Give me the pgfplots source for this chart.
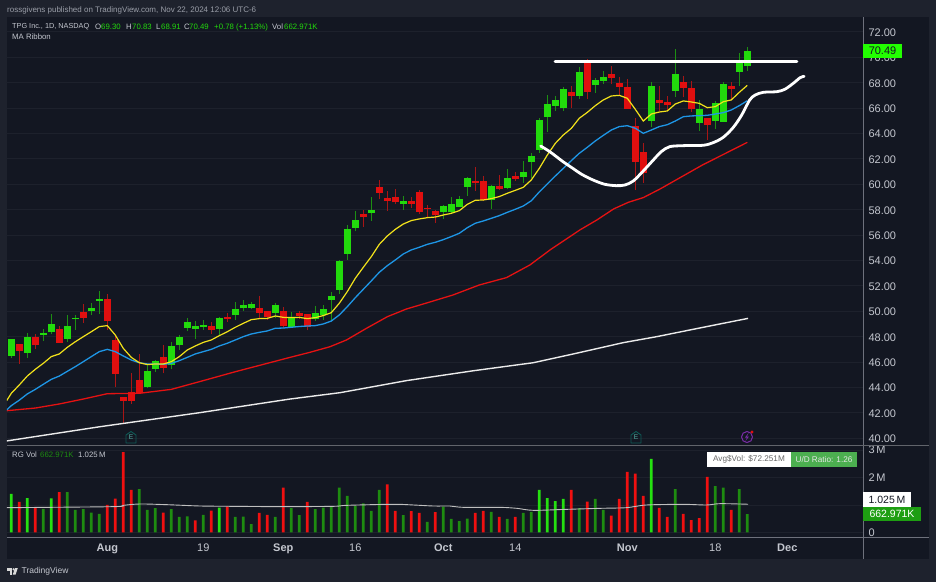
\documentclass[border=0pt]{standalone}
\usepackage{pgfplots}
\usepackage{pgfplotstable}
\usepackage{fontspec}
\setmainfont{Liberation Sans}
\pgfplotsset{compat=1.18}
\definecolor{outer}{HTML}{1E222D}
\definecolor{panel}{HTML}{131722}
\definecolor{gridc}{HTML}{1D212C}
\definecolor{axisc}{HTML}{6E717C}
\definecolor{txt}{HTML}{C4C7CF}
\definecolor{txtdim}{HTML}{9A9EA8}
\definecolor{gbody}{HTML}{22DA0C}
\definecolor{rbody}{HTML}{E00F0F}
\definecolor{gwick}{HTML}{1C8F12}
\definecolor{rwick}{HTML}{A81515}
\definecolor{vgd}{HTML}{1E8C10}
\definecolor{vgb}{HTML}{25E010}
\definecolor{vr}{HTML}{F01010}
\definecolor{maY}{HTML}{F2E21B}
\definecolor{maB}{HTML}{1E96E6}
\definecolor{maR}{HTML}{E51212}
\definecolor{tealE}{HTML}{0E5A55}
\definecolor{purp}{HTML}{7B2CA8}
\definecolor{tag}{HTML}{22FF00}
\definecolor{volg}{HTML}{1E9E12}
\definecolor{udg}{HTML}{4CAF50}
\pgfplotstableread{
i bot top low high
0 46.48 47.79 46.30 47.82
2 46.74 47.95 46.35 48.26
4 48.16 48.29 47.69 48.58
5 48.34 49.00 48.18 49.76
7 47.82 48.84 47.60 49.70
8 49.42 49.50 48.53 49.70
10 50.05 50.28 49.70 50.63
11 50.84 50.99 49.80 51.62
17 44.01 45.30 43.93 45.77
18 45.48 46.06 45.20 46.20
20 45.74 47.27 45.43 47.55
21 47.37 48.00 46.95 48.13
22 48.71 49.16 48.42 49.47
23 48.60 48.84 47.82 49.23
24 48.76 48.92 48.53 49.30
26 48.60 49.47 48.13 49.58
28 49.70 50.20 49.30 50.70
29 50.23 50.52 50.05 50.89
30 50.28 50.57 50.15 50.70
33 49.86 50.49 49.44 50.63
35 48.79 49.52 48.74 49.92
38 49.39 49.87 49.26 50.42
39 49.68 50.18 49.31 50.50
40 50.89 51.20 49.26 51.55
41 51.68 53.96 51.36 54.04
42 54.51 56.45 54.07 56.82
43 56.56 57.19 56.30 57.92
45 57.74 57.98 57.14 59.03
49 58.47 58.68 57.98 59.08
54 57.82 58.29 57.27 58.37
55 57.79 58.45 57.71 59.00
56 58.24 58.87 58.19 59.08
57 59.81 60.47 59.08 60.55
60 58.76 59.87 58.03 59.92
62 59.68 60.50 59.60 61.20
64 60.57 60.94 60.08 61.83
65 61.75 62.25 60.47 62.44
66 62.70 65.06 62.49 65.22
67 65.32 66.32 64.14 67.03
68 66.19 66.64 65.80 66.98
69 65.98 67.48 65.80 67.63
71 66.98 68.87 66.71 69.26
73 67.84 68.24 67.21 68.34
74 68.16 68.42 67.90 68.95
80 64.98 67.76 64.48 68.08
83 67.37 68.68 66.90 70.65
86 64.85 65.90 64.22 66.64
88 64.98 66.37 64.35 66.56
89 64.93 67.87 64.93 68.08
91 68.84 69.63 67.74 70.36
92 69.30 70.49 68.91 70.83
}\greentab
\pgfplotstableread{
i bot top low high
1 46.90 47.42 45.85 47.45
3 47.34 47.95 47.00 48.20
6 47.53 48.58 47.53 48.84
9 49.47 49.92 49.10 50.55
12 49.26 50.97 48.53 51.36
13 45.09 47.74 44.04 48.13
14 42.96 43.22 41.18 43.22
15 42.96 43.64 42.70 45.11
16 43.57 44.56 43.54 46.64
19 45.56 46.37 45.11 47.32
25 48.55 48.81 48.21 49.18
27 49.42 49.52 49.18 49.90
31 49.86 50.23 49.44 51.20
32 49.55 49.99 49.30 50.05
34 48.84 49.99 48.66 50.31
36 49.66 49.89 49.40 50.00
37 48.76 49.79 48.50 49.80
44 57.45 57.66 56.64 57.98
46 59.34 59.81 58.82 60.34
47 58.71 58.92 57.90 59.50
48 58.58 58.97 58.42 59.60
50 58.47 58.66 58.10 59.03
51 57.84 59.37 57.63 59.55
52 58.03 58.10 57.37 58.37
53 57.56 57.87 56.98 57.98
58 60.10 60.23 59.50 61.39
59 58.76 60.23 58.71 60.65
61 59.66 59.84 59.55 60.73
63 60.42 60.63 60.29 60.99
70 66.98 67.24 65.98 67.74
72 67.29 69.63 66.69 69.84
75 68.37 68.68 67.87 69.31
76 67.69 68.00 67.03 68.47
77 65.95 67.69 65.93 68.26
78 61.78 64.59 59.55 65.19
79 60.89 62.57 60.13 63.22
81 66.43 66.64 65.80 67.74
82 66.22 66.45 65.80 66.98
84 67.60 68.03 66.85 68.55
85 65.90 67.55 65.72 68.13
87 64.64 65.22 63.49 65.22
90 67.53 67.74 66.64 68.03
}\redtab
\pgfplotstableread{
i v
0 1.40
2 1.25
5 1.24
26 0.90
66 1.55
67 1.25
68 1.14
69 1.22
80 2.68
}\volbright
\pgfplotstableread{
i v
4 0.86
7 1.47
8 0.82
9 0.85
10 0.72
11 0.67
16 1.58
17 0.82
18 0.88
20 0.85
21 0.56
22 0.58
24 0.64
28 0.56
29 0.57
30 0.30
33 0.56
35 0.88
36 0.63
38 0.85
39 0.90
40 0.94
41 1.63
42 1.33
43 0.97
44 1.06
45 0.78
46 1.55
49 0.63
52 0.38
54 0.94
55 0.49
56 0.41
57 0.50
60 0.75
62 0.49
64 0.71
65 0.75
71 0.88
73 1.22
74 0.82
83 1.58
88 1.69
89 1.63
91 1.58
92 0.663
}\voldark
\pgfplotstableread{
i v
1 1.11
3 0.88
6 1.47
12 1.00
13 1.23
14 2.93
15 1.55
19 0.72
23 0.44
25 0.79
27 0.95
31 0.71
32 0.64
34 1.63
37 1.11
47 1.75
48 0.78
50 0.77
51 0.71
53 0.74
58 0.71
59 0.78
61 0.56
63 0.56
70 1.55
72 1.12
75 0.61
76 1.22
77 2.21
78 2.14
79 1.33
81 0.89
82 0.56
84 0.67
85 0.45
86 0.52
87 2.02
90 0.82
}\volred
\pgfplotsset{candle/.style n args={2}{draw=none,mark=none,forget plot,error bars/.cd,y dir=plus,y explicit,error mark=none,error bar style={solid,line cap=butt,line width=#1,draw=#2}}}
\begin{document}
\begin{tikzpicture}[x=1pt,y=1pt]
\fill[outer] (0,0) rectangle (936,582);
\fill[panel] (7,23) rectangle (929,565);
\begin{axis}[
  name=price, anchor=south west, at={(7pt,137pt)},
  scale only axis, width=856pt, height=428pt,
  xmin=-0.5375, xmax=106.4625, ymin=39.47, ymax=73.17,
  xtick=\empty, ytick={40,42,...,72},
  yticklabel pos=right,
  yticklabel style={/pgf/number format/fixed,/pgf/number format/fixed zerofill,/pgf/number format/precision=2,/pgf/number format/assume math mode=true,font=\fontsize{11}{13}\selectfont,text=txt,anchor=west,xshift=2pt,yshift=-0.7pt},
  major tick length=0pt,
  axis line style={draw=none},
  ymajorgrids, major grid style={gridc,line width=0.8pt},
]
\addplot[candle={1pt}{gwick}] table[x=i,y=low,y error expr=\thisrow{high}-\thisrow{low}]{\greentab};
\addplot[candle={1pt}{rwick}] table[x=i,y=low,y error expr=\thisrow{high}-\thisrow{low}]{\redtab};
\addplot[candle={6.4pt}{gbody}] table[x=i,y=bot,y error expr=\thisrow{top}-\thisrow{bot}]{\greentab};
\addplot[candle={6.4pt}{rbody}] table[x=i,y=bot,y error expr=\thisrow{top}-\thisrow{bot}]{\redtab};
% white 200
\addplot[white!92!black,line width=1.4pt] coordinates {(-0.58,39.79)(11.08,40.91)(23.6,42.02)(34.84,43.09)(41.1,43.59)(49.4,44.54)(57.8,45.32)(65.26,45.95)(70.26,46.64)(76.5,47.53)(80.67,48.0)(86.9,48.79)(92.1,49.44)};
% red
\addplot[maR,line width=1.3pt] coordinates {(-0.58,42.17)(3,42.38)(6,42.7)(9,43.09)(12,43.51)(16,43.54)(20,43.85)(24,44.54)(28,45.24)(32,45.9)(34.84,46.37)(37.34,46.77)(39.84,47.21)(41.9,47.74)(44.4,48.66)(47,49.57)(49.4,50.18)(51.8,50.63)(55.2,51.28)(58.5,52.07)(61.9,52.65)(64.84,53.65)(67.34,54.83)(71.09,56.41)(73.2,57.19)(75.3,58.06)(77.13,58.58)(79,58.95)(81.1,59.63)(86.4,61.52)(92,63.3)};
% blue
\addplot[maB,line width=1.3pt] coordinates {(-0.58,42.23)(0,42.57)(1,43.0)(2,43.49)(3,43.85)(4,44.25)(5,44.64)(6,44.9)(7,45.27)(8,45.64)(9,46.03)(10,46.43)(11,46.82)(12,47.0)(13,46.82)(14,46.48)(15,46.16)(16,45.95)(17,45.85)(18,45.85)(19,45.82)(20,45.9)(21,46.11)(22,46.37)(23,46.64)(24,46.82)(25,47.0)(26,47.27)(27,47.48)(28,47.74)(29,48.0)(30,48.21)(31,48.34)(32,48.45)(33,48.66)(34,48.68)(35,48.74)(36,48.8)(37,48.84)(38,48.87)(39,49.0)(40,49.23)(41,49.71)(42,50.36)(43,51.07)(44,51.73)(45,52.39)(46,53.07)(47,53.59)(48,54.04)(49,54.51)(50,54.83)(51,55.04)(52,55.27)(53,55.43)(54,55.64)(55,55.88)(56,56.14)(57,56.58)(58,56.93)(59,57.11)(60,57.32)(61,57.53)(62,57.79)(63,58.03)(64,58.29)(65,58.7)(66,59.4)(67,60.03)(68,60.65)(69,61.25)(70,61.86)(71,62.44)(72,62.91)(73,63.41)(74,63.85)(75,64.27)(76,64.54)(77,64.61)(78,64.41)(79,64.01)(80,64.27)(81,64.54)(82,64.69)(83,64.98)(84,65.32)(85,65.38)(86,65.4)(87,65.43)(88,65.53)(89,65.64)(90,65.85)(91,66.19)(92,66.58)};
% yellow
\addplot[maY,line width=1.2pt] coordinates {(-0.58,42.96)(0,43.54)(1,44.2)(2,44.9)(3,45.43)(4,45.9)(5,46.43)(6,46.64)(7,47.16)(8,47.6)(9,48.0)(10,48.39)(11,48.79)(12,48.87)(13,48.13)(14,47.08)(15,46.37)(16,45.95)(17,45.8)(18,45.85)(19,45.85)(20,46.03)(21,46.43)(22,46.95)(23,47.27)(24,47.55)(25,47.74)(26,48.08)(27,48.39)(28,48.74)(29,49.05)(30,49.34)(31,49.42)(32,49.44)(33,49.63)(34,49.52)(35,49.5)(36,49.52)(37,49.42)(38,49.5)(39,49.66)(40,49.89)(41,50.63)(42,51.55)(43,52.6)(44,53.46)(45,54.3)(46,55.27)(47,55.93)(48,56.45)(49,56.87)(50,57.14)(51,57.27)(52,57.37)(53,57.42)(54,57.58)(55,57.71)(56,57.92)(57,58.42)(58,58.74)(59,58.76)(60,58.87)(61,59.03)(62,59.29)(63,59.52)(64,59.76)(65,60.34)(66,61.25)(67,62.3)(68,63.22)(69,63.88)(70,64.4)(71,65.2)(72,65.66)(73,66.19)(74,66.64)(75,66.95)(76,67.0)(77,66.77)(78,65.9)(79,64.98)(80,65.53)(81,65.69)(82,65.77)(83,66.32)(84,66.56)(85,66.48)(86,66.37)(87,66.03)(88,66.11)(89,66.5)(90,66.64)(91,67.24)(92,67.79)};
% hand-drawn
\addplot[white,line width=2.8pt,line cap=round] coordinates {(67.96,69.65)(98.2,69.65)};
\addplot[white,line width=2.8pt,line cap=round,smooth,tension=0.5] coordinates {(66.17,63.01)(67.3,62.57)(68.96,61.78)(70.2,61.25)(71.25,60.8)(72.7,60.34)(74.17,60.0)(75.6,59.89)(76.7,59.94)(77.75,60.26)(79,61.05)(80.25,61.91)(81.25,62.57)(82.3,62.96)(84,63.04)(86.5,63.07)(87.75,63.28)(89,63.7)(90.25,64.48)(91.3,65.45)(92.3,66.64)(93,67.03)(94,67.24)(95.7,67.29)(96.7,67.48)(97.75,67.95)(98.6,68.39)(99.1,68.5)};
\end{axis}
\begin{axis}[
  name=vol, anchor=south west, at={(7pt,45pt)},
  scale only axis, width=856pt, height=92pt,
  xmin=-0.5375, xmax=106.4625, ymin=-0.17, ymax=3.186,
  xtick={12,24,34,43,54,63,77,88,97},
  xticklabels={\textbf{Aug},19,\textbf{Sep},16,\textbf{Oct},14,\textbf{Nov},18,\textbf{Dec}},
  xticklabel style={font=\fontsize{11}{13}\selectfont,text=txt,yshift=-3pt},
  ytick={0,1,2,3}, yticklabels={0,,2\,M,3\,M},
  yticklabel pos=right,
  yticklabel style={font=\fontsize{11}{13}\selectfont,text=txt,anchor=west,xshift=2pt},
  major tick length=0pt,
  axis line style={draw=none},
  ymajorgrids, major grid style={gridc,line width=0.8pt},
]
\addplot[ybar,bar width=2.7pt,bar shift=0pt,fill=vgd,draw=none] table[x=i,y=v]{\voldark};
\addplot[ybar,bar width=2.7pt,bar shift=0pt,fill=vgb,draw=none] table[x=i,y=v]{\volbright};
\addplot[ybar,bar width=2.7pt,bar shift=0pt,fill=vr,draw=none] table[x=i,y=v]{\volred};
\addplot[white!75!black,line width=0.9pt,smooth] coordinates {(-0.58,0.90)(12.75,0.937)(14,0.985)(16.08,1.034)(19.4,1.01)(23.6,0.961)(27.75,0.949)(34,0.937)(40.25,0.949)(41.9,0.985)(46.9,1.022)(48.6,1.022)(52.75,0.961)(54.8,0.961)(56.5,0.912)(61.1,0.912)(63.2,0.876)(65.25,0.803)(69.4,0.839)(73.6,0.876)(76.9,0.9)(79.4,0.998)(84,1.022)(86.9,0.998)(88.6,1.046)(92.1,1.025)};
\end{axis}
% frame lines
\draw[axisc,line width=0.7pt] (863,23) -- (863,565);
\draw[axisc,line width=0.7pt] (7,45) -- (929,45);
\draw[gridc!70!white,line width=0.8pt] (7,137) -- (929,137);
% header
\node[anchor=west,inner sep=0,text=txtdim,font=\fontsize{8}{10}\selectfont] at (7,572) {rossgivens published on TradingView.com, Nov 22, 2024 12:06 UTC-6};
\begin{scope}[every node/.style={anchor=west,inner sep=0,font=\fontsize{7.8}{10}\selectfont}]
\node[text=txt,font=\fontsize{7.3}{10}\selectfont] at (12,555) {TPG Inc., 1D, NASDAQ};
\node[text=txt] at (95,555) {O};
\node[text=gbody] at (101,555) {69.30};
\node[text=txt] at (126,555) {H};
\node[text=gbody] at (132,555) {70.83};
\node[text=txt] at (156,555) {L};
\node[text=gbody] at (161,555) {68.91};
\node[text=txt] at (184,555) {C};
\node[text=gbody] at (189,555) {70.49};
\node[text=gbody] at (214,555) {+0.78 (+1.13\%)};
\node[text=txt] at (272,555) {Vol};
\node[text=gbody] at (284,555) {662.971K};
\node[text=txt] at (12,545) {MA Ribbon};
\node[text=txt] at (12,127) {RG Vol};
\node[text=vgd] at (40,127) {662.971K};
\node[text=txt] at (78,127) {1.025\,M};
\end{scope}
% price tag
\fill[tag] (863,524) rectangle (902,538);
\node[anchor=center,inner sep=0,text=panel,font=\fontsize{11}{13}\selectfont] at (882.5,531) {70.49};
% volume tags
\fill[white] (863,75) rectangle (911,90);
\node[anchor=center,inner sep=0,text=panel,font=\fontsize{10.5}{13}\selectfont] at (887,82.5) {1.025\,M};
\fill[volg] (863,61) rectangle (921,75);
\node[anchor=center,inner sep=0,text=white,font=\fontsize{10.5}{13}\selectfont] at (892,68) {662.971K};
% stats box
\fill[white] (707,115) rectangle (791,130);
\fill[udg] (791,115) rectangle (857,130);
\node[anchor=center,inner sep=0,text=black!60,font=\fontsize{8.2}{10}\selectfont] at (749,122.5) {Avg\$Vol: \$72.251M};
\node[anchor=center,inner sep=0,text=white!90!black,font=\fontsize{8.2}{10}\selectfont] at (824,122.5) {U/D Ratio: 1.26};
% E icons
\foreach \x in {131,636} {
  \draw[tealE,line width=0.9pt,line join=round] (\x-5,139) -- (\x+5,139) -- (\x+5,147) -- (\x,150.5) -- (\x-5,147) -- cycle;
  \node[inner sep=0,text=tealE!80!white,font=\fontsize{7}{8}\selectfont\bfseries] at (\x,144.5) {E};
}
% earnings icon
\draw[purp,line width=1pt] (747,145) circle (5.5);
\fill[purp] (748.5,149) -- (745,144.5) -- (747,144.5) -- (745.5,141) -- (749,145.5) -- (747,145.5) -- cycle;
\fill[rbody] (752,150) circle (1.6);
% logo
\begin{scope}[yshift=2.5pt]
\fill[white!85!black] (7,11.5) rectangle (12.2,8.8);
\fill[white!85!black] (9.6,9) rectangle (12.2,5);
\fill[white!85!black] (13.6,10.2) circle (1.2);
\fill[white!85!black] (12.8,5) -- (15,11.5) -- (17.8,11.5) -- (15.6,5) -- cycle;
\end{scope}
\node[anchor=west,inner sep=0,text=txt,font=\fontsize{8.5}{11}\selectfont] at (21.5,10.5) {TradingView};
\end{tikzpicture}
\end{document}
